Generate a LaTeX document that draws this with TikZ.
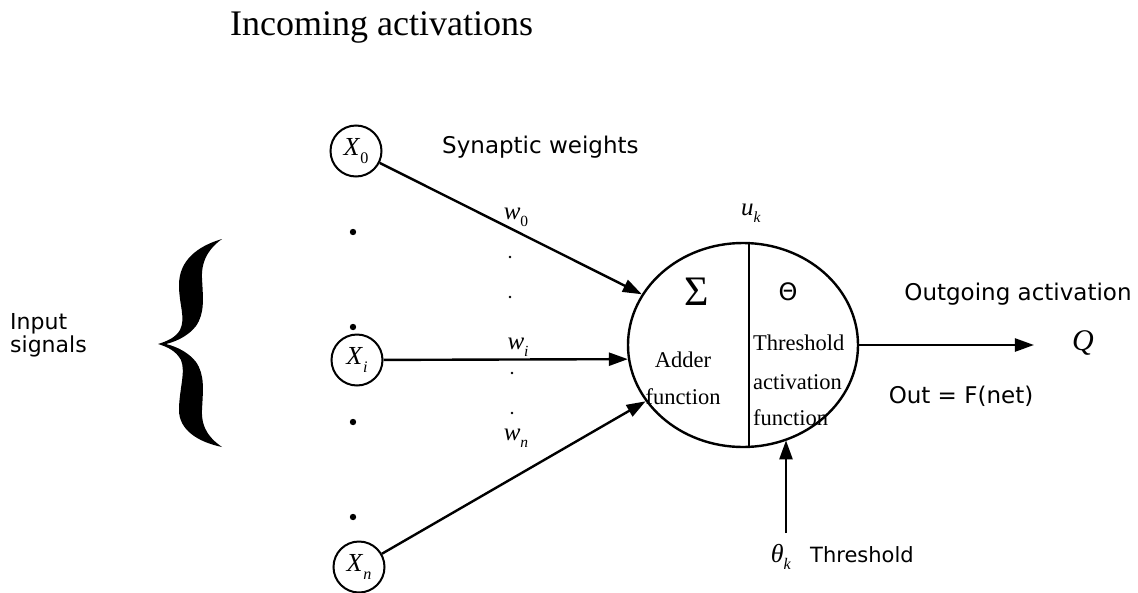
\documentclass[tikz,border=0pt]{standalone}
\usepackage{graphicx}
\usepackage{fontspec}
\setmainfont{Liberation Serif}
\newfontfamily\lblfont{DejaVu Sans}
\usetikzlibrary{arrows.meta,shapes.geometric}
% italic symbol with a lowered, reduced index
\newcommand\lowsub[1]{\raisebox{-0.28em}{\scalebox{0.62}{#1}}}
\newcommand\symb[2]{\textit{#1}\lowsub{#2}}
\begin{document}
\begin{tikzpicture}[x=1pt,y=-1pt,
  wire/.style={line width=2.4pt},
  arr/.style={wire,-{Triangle[length=19pt,width=13pt]}},
  unit/.style={draw,circle,line width=2pt,minimum size=51pt,inner sep=0pt,
               font=\fontsize{26}{26}\selectfont},
  sans/.style={font=\lblfont\fontsize{#1}{#1}\selectfont,inner sep=0pt},
  serif/.style={font=\fontsize{#1}{#1}\selectfont,inner sep=0pt},
]
\useasboundingbox (0,0) rectangle (1138,592);
\fill[white] (0,0) rectangle (1138,592);

% titles
\node[serif=36,anchor=base west] (incoming) at (230,35) {Incoming activations};
\node[sans=23,anchor=base west] (synaptic) at (442,153) {Synaptic weights};

% input units
\node[unit] (x0) at (356,151) {\symb{X}{0}};
\node[unit] (xi) at (357,360) {\symb{X}{\textit{i}}};
\node[unit] (xn) at (359,567) {\symb{X}{\textit{n}}};

% ellipsis dots between the inputs and between the weights
\foreach \yy in {232,327,422,517} \fill (353,\yy) circle (3.2pt);
\foreach \pp in {(510,257),(510,297),(512,373),(512,413)} \fill \pp circle (1.3pt);

% brace grouping the input signals
\fill (222,239) .. controls (198,246) and (179,260) .. (179,285)
      .. controls (179,305) and (186,318) .. (180,330)
      .. controls (176,337) and (168,341) .. (158,344)
      .. controls (168,347) and (176,351) .. (181,360)
      .. controls (186,372) and (179,390) .. (179,410)
      .. controls (179,430) and (198,442) .. (222,447)
      .. controls (212,440) and (201,430) .. (202,410)
      .. controls (203,390) and (205,375) .. (196,362)
      .. controls (189,353) and (178,347) .. (166,344)
      .. controls (178,341) and (189,335) .. (196,326)
      .. controls (205,313) and (203,298) .. (202,278)
      .. controls (201,258) and (212,246) .. (222,239) -- cycle;
\node[sans=22,anchor=base west] (input) at (10,329) {Input};
\node[sans=22,anchor=base west] (signals) at (10,352) {signals};

% neuron body
\node[draw,ellipse,line width=2.4pt,minimum width=230pt,minimum height=204pt,inner sep=0pt] (neuron) at (743,345) {};
\draw[line width=2pt] ([xshift=6pt]neuron.north) -- ([xshift=6pt]neuron.south);
\node[serif=25] (uk) at (751,213) {\symb{u}{\textit{k}}};

\node[serif=42] (sigma) at (697,292) {Σ};
\node[sans=24] (theta) at (788,292) {Θ};
\node[serif=22.5,anchor=base] (adder) at (683,367) {Adder};
\node[serif=22.5,anchor=base] (addfn) at (683,404) {function};
\node[serif=22.5,anchor=base west] (thr1) at (753,350) {Threshold};
\node[serif=22.5,anchor=base west] (thr2) at (753,389) {activation};
\node[serif=22.5,anchor=base west] (thr3) at (753,425) {function};

% weights
\node[serif=25] (w0) at (516,217) {\symb{w}{0}};
\node[serif=25] (wi) at (518,347) {\symb{w}{\textit{i}}};
\node[serif=25] (wn) at (516,438) {\symb{w}{\textit{n}}};

\draw[arr] (x0) -- (neuron);
\draw[arr] (xi) -- (neuron.187.5);
\draw[arr] (xn) -- (neuron);

% output
\node[serif=30] (q) at (1083,343) {\textit{Q}};
\draw[arr,shorten >=38pt] (neuron.east) -- (neuron.east -| q.west);
\node[sans=23,anchor=base] (outgoing) at (1018,300) {Outgoing activation};
\node[sans=23,anchor=base] (outfn) at (961,403) {Out = F(net)};

% threshold input
\node[serif=26,anchor=base] (thetak) at (781,562) {\symb{θ}{\textit{k}}};
\node[sans=21,anchor=base west] (thrlbl) at (810,562) {Threshold};
\coordinate (thrsrc) at (786,533);
\draw[arr] (thrsrc) -- (thrsrc |- neuron.-65.6);
\end{tikzpicture}
\end{document}
